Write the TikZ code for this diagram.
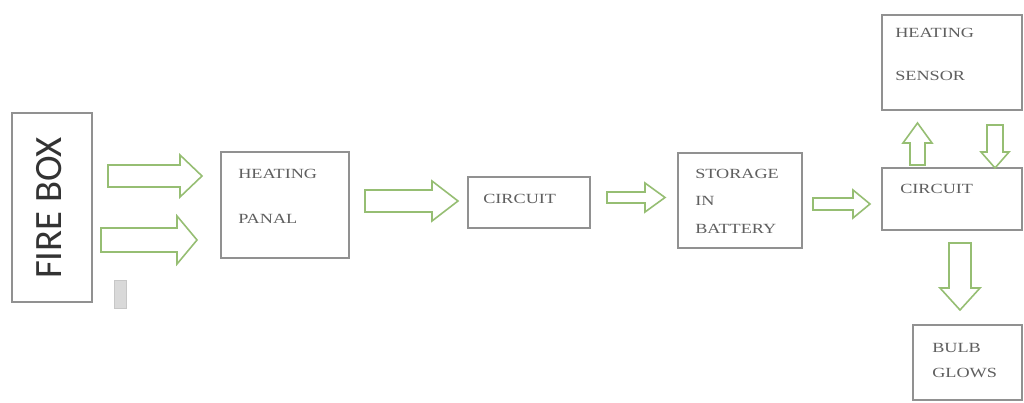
\documentclass[tikz,border=0pt]{standalone}
\usepackage{fontspec}
\setmainfont{Liberation Serif}
\newfontfamily\boxfont[FakeStretch=1.3]{Liberation Serif}
\newfontfamily\firefont{Carlito}
\definecolor{boxgray}{RGB}{145,145,145}
\definecolor{txtgray}{RGB}{95,95,95}
\definecolor{arrgreen}{RGB}{150,190,115}
\tikzset{
  box/.style={draw=boxgray, line width=1.1pt, inner sep=0pt, outer sep=0pt, fill=white},
  lbl/.style={anchor=base west, inner sep=0pt, text=txtgray, font=\boxfont\fontsize{10.5}{12}\selectfont},
  blockarrow/.style={draw=arrgreen, line width=1.2pt, fill=white, line join=miter}
}
\begin{document}
\begin{tikzpicture}[x=0.75pt,y=-0.75pt]
\useasboundingbox (0,0) rectangle (1024,403);
% boxes
\node[box, minimum width=60pt, minimum height=141.75pt] (firebox) at (52,207.5) {};
\node[rotate=90, inner sep=0pt, text=black!80, font=\firefont\fontsize{29}{31}\selectfont] (fireboxlabel) at (49,208) {FIRE BOX};
\node[box, minimum width=96pt, minimum height=79.5pt] (panel) at (285,205) {};
\node[box, minimum width=91.5pt, minimum height=38.25pt] (circa) at (529,202.5) {};
\node[box, minimum width=93pt, minimum height=71.25pt] (storage) at (740,200.5) {};
\node[box, minimum width=105pt, minimum height=46.5pt] (circb) at (952,199) {};
\node[box, minimum width=105pt, minimum height=71.25pt] (sensor) at (952,62.5) {};
\node[box, minimum width=81.75pt, minimum height=56.25pt] (bulb) at (967.5,362.5) {};
% small grey marker
\draw[draw=black!22, fill=black!15, line width=0.6pt] (114,280) rectangle (126,308);
% labels
\node[lbl] (panelA) at (238,178) {HEATING};
\node[lbl] (panelB) at (238,223) {PANAL};
\node[lbl] (circaA) at (483,203) {CIRCUIT};
\node[lbl] (storA) at (695,178) {STORAGE};
\node[lbl] (storB) at (695,205) {IN};
\node[lbl] (storC) at (695,233) {BATTERY};
\node[lbl] (circbA) at (900,193) {CIRCUIT};
\node[lbl] (sensA) at (895,38) {HEATING};
\node[lbl] (sensB) at (895,80) {SENSOR};
\node[lbl] (bulbA) at (932,352) {BULB};
\node[lbl] (bulbB) at (932,377) {GLOWS};
% right block arrows
\draw[blockarrow] (108,165) -- (180,165) -- (180,155) -- (202,176) -- (180,197) -- (180,187) -- (108,187) -- cycle;
\draw[blockarrow] (101,228) -- (177,228) -- (177,216) -- (197,240) -- (177,264) -- (177,252) -- (101,252) -- cycle;
\draw[blockarrow] (365,190) -- (432,190) -- (432,181) -- (458,201) -- (432,221) -- (432,212) -- (365,212) -- cycle;
\draw[blockarrow] (607,192) -- (645,192) -- (645,183) -- (665,197.5) -- (645,212) -- (645,203) -- (607,203) -- cycle;
\draw[blockarrow] (813,198) -- (853,198) -- (853,190) -- (870,204) -- (853,218) -- (853,210) -- (813,210) -- cycle;
% up arrow
\draw[blockarrow] (910,165) -- (910,143) -- (903,143) -- (917.5,123) -- (932,143) -- (925,143) -- (925,165) -- cycle;
% down arrows
\draw[blockarrow] (987,125) -- (987,152) -- (981,152) -- (995,168) -- (1009,152) -- (1003,152) -- (1003,125) -- cycle;
\draw[blockarrow] (949,243) -- (949,288) -- (940,288) -- (960,310) -- (980,288) -- (971,288) -- (971,243) -- cycle;
\end{tikzpicture}
\end{document}
